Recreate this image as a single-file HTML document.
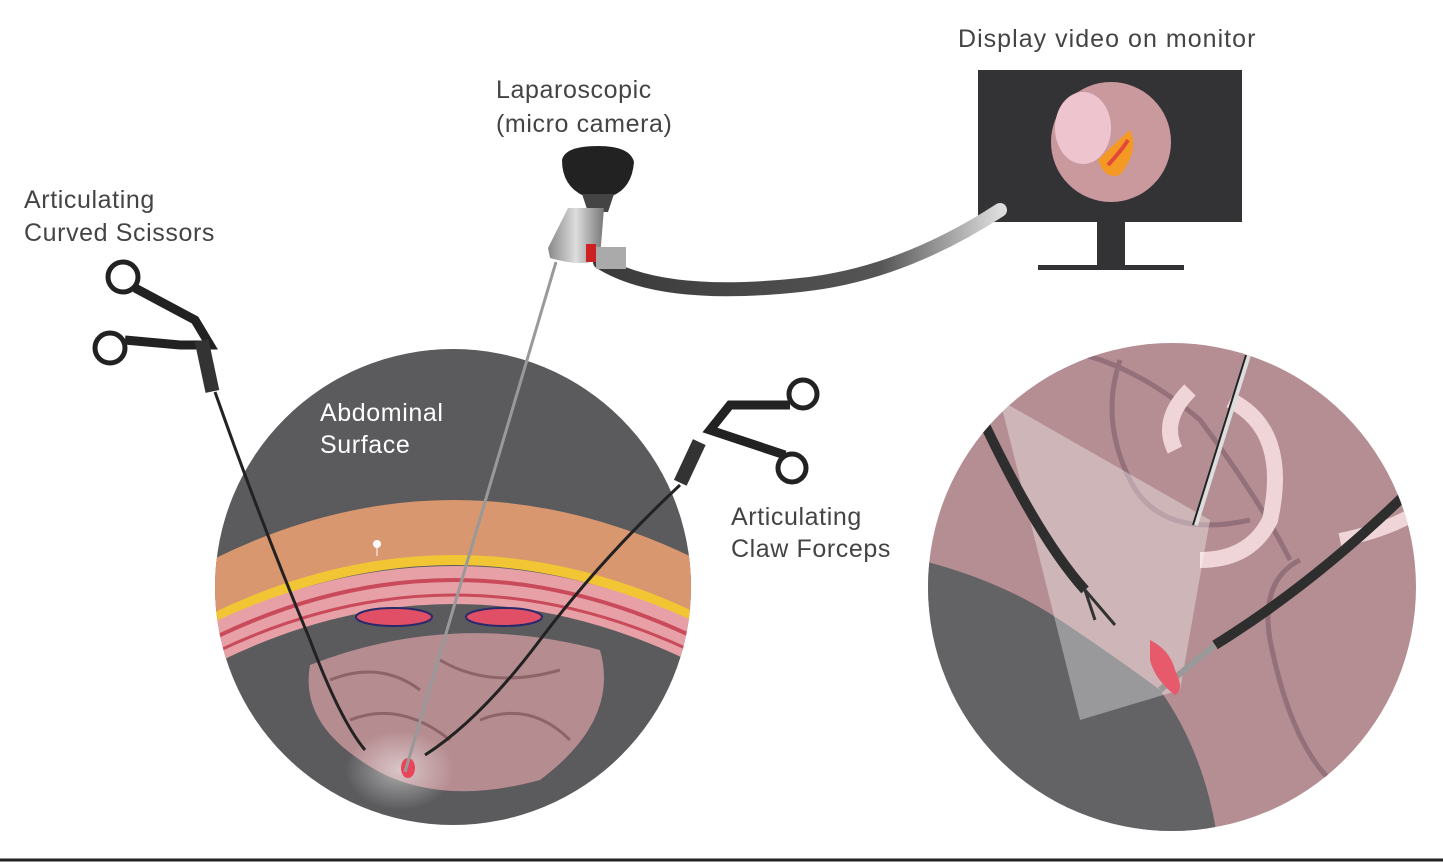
<!DOCTYPE html>
<html><head><meta charset="utf-8"><style>
html,body{margin:0;padding:0;background:#fff;}
svg{display:block;}
text{font-family:"Liberation Sans",sans-serif;letter-spacing:0.6px;}
</style></head><body>
<svg width="1443" height="862" viewBox="0 0 1443 862" xmlns="http://www.w3.org/2000/svg">
<defs>
<clipPath id="cl"><circle cx="453" cy="587" r="238"/></clipPath>
<clipPath id="cr"><circle cx="1172" cy="587" r="244"/></clipPath>
<linearGradient id="cab" x1="0" y1="0" x2="1" y2="0"><stop offset="0" stop-color="#3a3a3a"/><stop offset="0.7" stop-color="#555"/><stop offset="1" stop-color="#ddd"/></linearGradient>
<radialGradient id="lite" cx="0.5" cy="0.5" r="0.5"><stop offset="0" stop-color="#fff" stop-opacity="0.5"/><stop offset="1" stop-color="#fff" stop-opacity="0"/></radialGradient>
<linearGradient id="cam" x1="0" y1="0" x2="1" y2="0"><stop offset="0" stop-color="#888"/><stop offset="0.5" stop-color="#ddd"/><stop offset="1" stop-color="#777"/></linearGradient>
</defs>
<rect width="1443" height="862" fill="#fff"/>
<line x1="0" y1="860" x2="1443" y2="860" stroke="#222" stroke-width="3"/>

<circle cx="453" cy="587" r="238" fill="#5b5b5d"/>
<g clip-path="url(#cl)">
<path d="M200 600 Q453 460 710 600" fill="none" stroke="#d99770" stroke-width="60"/>
<path d="M200 625 Q453 495 710 625" fill="none" stroke="#f2c534" stroke-width="10"/>
<path d="M200 650 Q453 520 710 650" fill="none" stroke="#e7a0a6" stroke-width="38"/>
<path d="M200 645 Q453 515 710 645" fill="none" stroke="#c94a5b" stroke-width="4"/>
<path d="M200 660 Q453 530 710 660" fill="none" stroke="#c94a5b" stroke-width="3"/>
<ellipse cx="394" cy="617" rx="38" ry="9" fill="#e04f66" stroke="#2a2a6a" stroke-width="2"/>
<ellipse cx="504" cy="617" rx="38" ry="9" fill="#e04f66" stroke="#2a2a6a" stroke-width="2"/>
<path d="M310 665 Q450 610 600 650 Q620 720 540 780 Q430 810 360 760 Q300 720 310 665 Z" fill="#b58c90"/>
<path d="M330 680 Q380 660 420 690 M440 660 Q490 690 560 670 M350 720 Q400 700 450 740 M480 720 Q530 700 570 740" stroke="#8e6468" stroke-width="3" fill="none"/>
<ellipse cx="400" cy="770" rx="55" ry="40" fill="url(#lite)"/>
<ellipse cx="408" cy="768" rx="7" ry="10" fill="#e8445a"/>
</g>
<circle cx="377" cy="544" r="4" fill="#fff"/>
<line x1="377" y1="544" x2="377" y2="556" stroke="#fff" stroke-width="1"/>

<circle cx="1172" cy="587" r="244" fill="#b48e93"/>
<g clip-path="url(#cr)">
<path d="M920 560 Q1000 580 1060 620 Q1120 660 1160 690 Q1210 760 1220 860 L920 860 Z" fill="#636366"/>
<path d="M1060 350 Q1130 360 1200 420 Q1260 500 1290 560" stroke="#94707a" stroke-width="5" fill="none"/>
<path d="M1120 360 Q1100 420 1130 480 Q1160 540 1250 520" stroke="#94707a" stroke-width="5" fill="none"/>
<path d="M1230 400 Q1290 430 1270 520 Q1250 560 1200 560" stroke="#f0d5d8" stroke-width="16" fill="none"/>
<path d="M1190 390 Q1160 420 1175 450" stroke="#f0d5d8" stroke-width="16" fill="none"/>
<path d="M1300 560 Q1260 580 1270 640 Q1290 740 1330 780" stroke="#94707a" stroke-width="5" fill="none"/>
<path d="M1340 540 Q1390 530 1420 510" stroke="#f0d5d8" stroke-width="14" fill="none"/>
<path d="M1000 400 L1080 720 L1180 690 L1210 520 Z" fill="#fff" opacity="0.35"/>
<path d="M985 425 Q1040 540 1085 590" stroke="#2e2e2e" stroke-width="10" fill="none"/>
<path d="M1085 590 L1095 620 M1085 590 L1115 625" stroke="#333" stroke-width="3"/>
<line x1="1248" y1="355" x2="1195" y2="525" stroke="#ddd" stroke-width="6"/>
<line x1="1246" y1="355" x2="1193" y2="525" stroke="#222" stroke-width="2"/>
<path d="M1420 480 Q1320 580 1215 645" stroke="#2e2e2e" stroke-width="10" fill="none"/>
<line x1="1215" y1="645" x2="1160" y2="690" stroke="#999" stroke-width="6"/>
<path d="M1150 640 Q1170 650 1175 670 Q1185 690 1175 695 Q1155 680 1150 660 Z" fill="#e65a6c"/>
</g>

<rect x="978" y="70" width="264" height="152" fill="#333335"/>
<rect x="1097" y="222" width="28" height="44" fill="#333335"/>
<rect x="1038" y="265" width="146" height="5" fill="#333335"/>
<circle cx="1111" cy="142" r="60" fill="#c9999e"/>
<ellipse cx="1083" cy="128" rx="28" ry="36" fill="#eec4cf"/>
<path d="M1098 160 Q1118 140 1130 130 Q1140 150 1120 175 Q1105 180 1098 160 Z" fill="#f49a24"/>
<path d="M1108 165 Q1122 150 1128 140" stroke="#e3483a" stroke-width="4" fill="none"/>

<path d="M600 262 Q660 300 800 285 Q900 275 1000 210" stroke="url(#cab)" stroke-width="14" fill="none" stroke-linecap="round"/>

<line x1="556" y1="262" x2="405" y2="772" stroke="#999" stroke-width="3"/>
<path d="M562 160 Q565 146 598 146 Q630 146 634 162 Q632 188 612 196 L584 196 Q562 186 562 160 Z" fill="#222"/>
<path d="M582 194 L614 194 L608 212 L588 212 Z" fill="#444"/>
<path d="M568 208 L604 208 L600 258 Q585 268 550 258 L548 248 Z" fill="url(#cam)"/>
<rect x="586" y="244" width="10" height="18" fill="#c22"/>
<rect x="596" y="247" width="30" height="22" fill="#aaa"/>

<circle cx="123" cy="277" r="15" fill="none" stroke="#222" stroke-width="5"/>
<circle cx="110" cy="348" r="15" fill="none" stroke="#222" stroke-width="5"/>
<path d="M135 288 L195 320 L210 345 L180 345 L125 340" stroke="#222" stroke-width="9" fill="none"/>
<rect x="200" y="340" width="14" height="52" fill="#333" transform="rotate(-12 207 366)"/>
<path d="M215 392 Q260 520 310 640 Q340 720 365 750" stroke="#222" stroke-width="3" fill="none"/>

<circle cx="803" cy="394" r="14" fill="none" stroke="#222" stroke-width="5"/>
<circle cx="792" cy="468" r="14" fill="none" stroke="#222" stroke-width="5"/>
<path d="M790 405 L730 405 L710 430 L740 440 L785 455" stroke="#222" stroke-width="9" fill="none"/>
<rect x="683" y="440" width="14" height="45" fill="#333" transform="rotate(25 690 462)"/>
<path d="M680 485 Q600 560 540 640 Q480 720 425 755" stroke="#222" stroke-width="3" fill="none"/>

<text x="958" y="47" font-size="25" fill="#444" textLength="298">Display video on monitor</text>
<text x="496" y="98" font-size="25" fill="#444">Laparoscopic</text>
<text x="496" y="132" font-size="25" fill="#444">(micro camera)</text>
<text x="24" y="208" font-size="25" fill="#444">Articulating</text>
<text x="24" y="241" font-size="25" fill="#444">Curved Scissors</text>
<text x="320" y="421" font-size="25" fill="#fff">Abdominal</text>
<text x="320" y="453" font-size="25" fill="#fff">Surface</text>
<text x="731" y="525" font-size="25" fill="#444">Articulating</text>
<text x="731" y="557" font-size="25" fill="#444">Claw Forceps</text>
</svg>
</body></html>
